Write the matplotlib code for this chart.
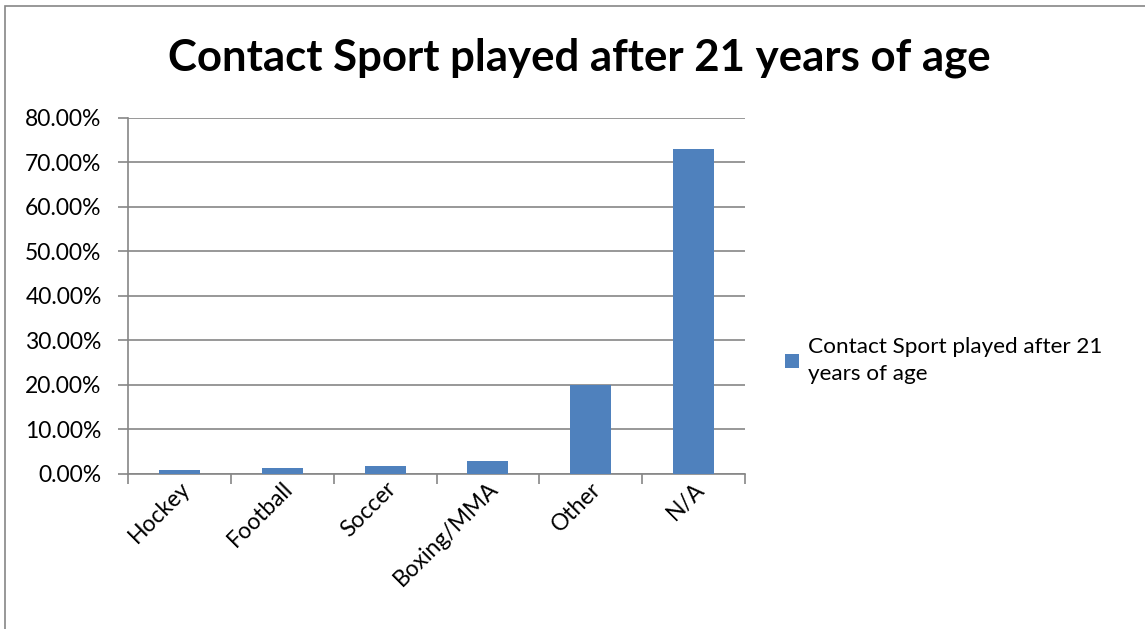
import matplotlib.pyplot as plt
from matplotlib.patches import Rectangle
from matplotlib.ticker import FuncFormatter, MultipleLocator

sports = ["Hockey", "Football", "Soccer", "Boxing/MMA", "Other", "N/A"]
share = [0.8, 1.35, 1.8, 2.85, 20.0, 73.0]
series_name = "Contact Sport played after 21 years of age"

plt.rcParams['font.family'] = ['Lato', 'DejaVu Sans']
grey = "#868686"
blue = "#4f81bd"

fig = plt.figure(figsize=(11.45, 6.29), dpi=100)
W, H = 1145, 629

# outer chart frame (runs off the right and bottom edges)
fig.patches.append(Rectangle((5 / W, -0.1), 1.2, 1 - 6 / H + 0.1,
                             transform=fig.transFigure, fill=False,
                             edgecolor=grey, linewidth=1.2))

ax = fig.add_axes([128 / W, 1 - 474 / H, (745 - 128) / W, (474 - 117.7) / H])
x = list(range(len(sports)))
ax.bar(x, share, width=0.4, color=blue, label=series_name, zorder=3)

ax.set_xlim(-0.5, len(sports) - 0.5)
ax.set_ylim(0, 80)
ax.yaxis.set_major_locator(MultipleLocator(10))
ax.yaxis.set_major_formatter(FuncFormatter(lambda v, p: f"{v:.2f}%"))
ax.grid(axis='y', color=grey, linewidth=1.2, zorder=0)

for s in ["top", "right"]:
    ax.spines[s].set_visible(False)
for s in ["left", "bottom"]:
    ax.spines[s].set_color(grey)
    ax.spines[s].set_linewidth(1.2)

# category ticks sit between the bars
ax.set_xticks([i - 0.5 for i in range(len(sports) + 1)])
ax.set_xticklabels([])
ax.set_xticks(x, minor=True)
ax.set_xticklabels(sports, minor=True, rotation=45, ha='right',
                   rotation_mode='anchor', fontsize=16.5)
ax.tick_params(axis='x', which='minor', length=0, pad=3)
ax.tick_params(axis='x', which='major', length=7, color=grey, width=1.2)
ax.tick_params(axis='y', length=7, color=grey, width=1.2, labelsize=16.5, pad=12)

fig.text(0.5 + 7 / W, 1 - 58 / H, series_name, ha='center', va='center',
         fontsize=31.5, fontweight='bold')

fig.legend(handles=[ax.patches[0]], labels=["Contact Sport played after 21\nyears of age"],
           loc='upper left', bbox_to_anchor=(776 / W, 1 - 328 / H),
           frameon=False, fontsize=16.2, handlelength=0.6, handleheight=0.6,
           handletextpad=0.4, borderaxespad=0)
for t in fig.legends[0].get_texts():
    t.set_linespacing(1.45)

fig.savefig("out.png", dpi=100)
